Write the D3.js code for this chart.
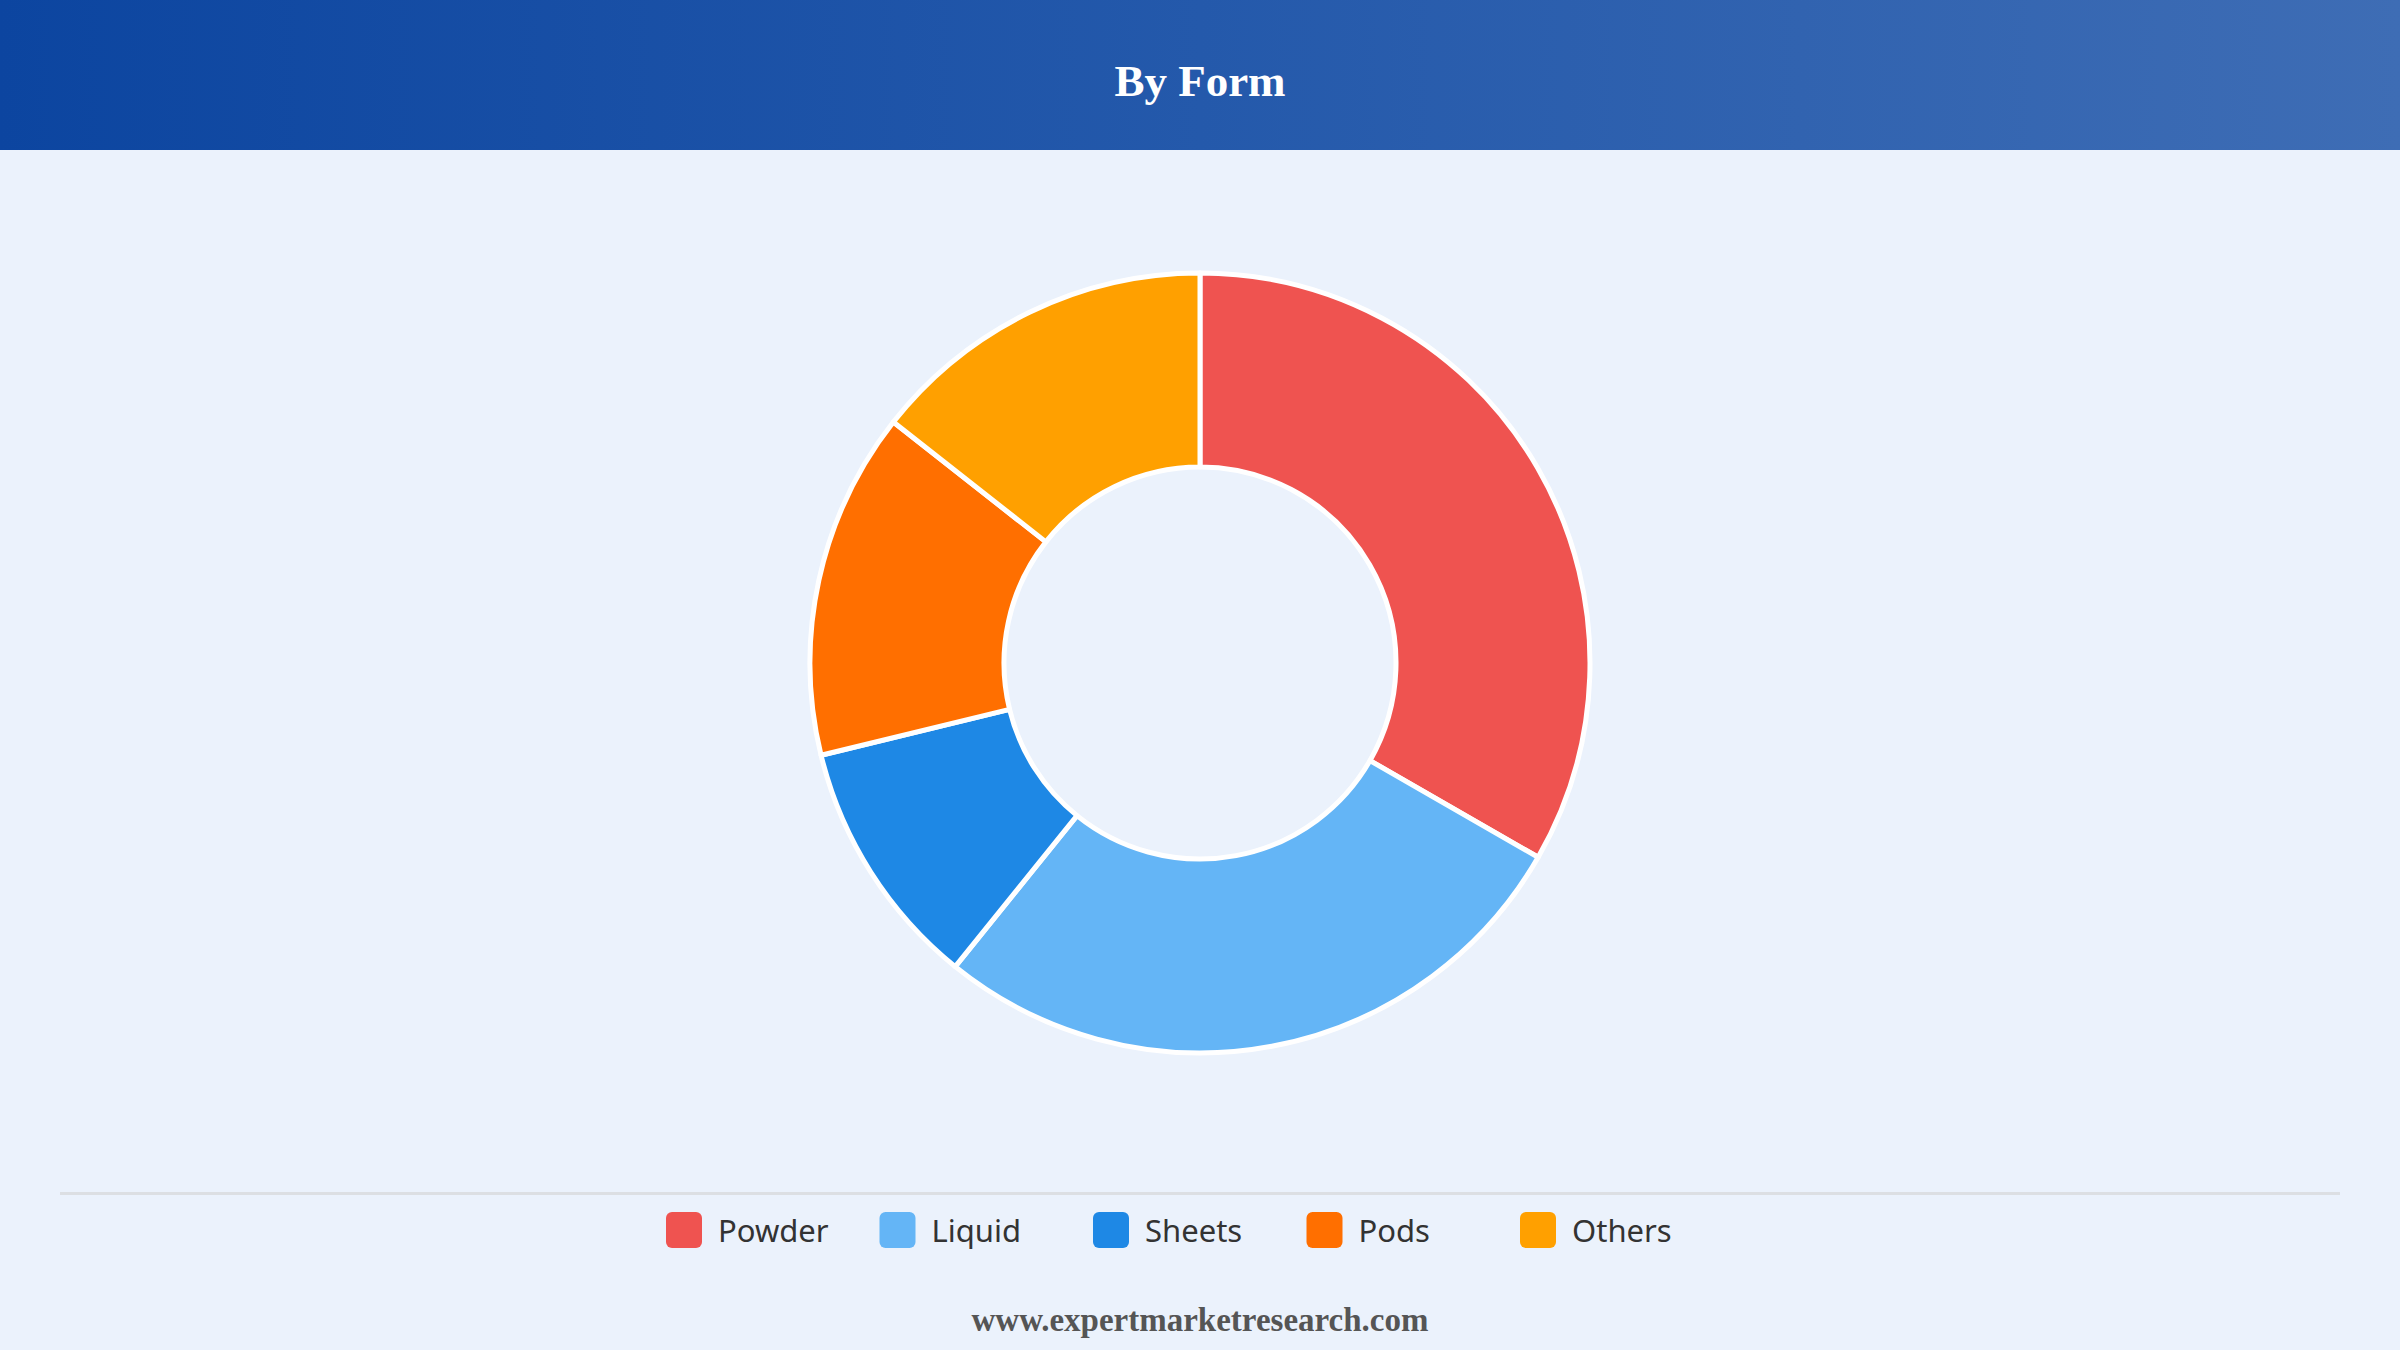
<!DOCTYPE html>
<html>
<head>
<meta charset="utf-8">
<script src="https://cdn.jsdelivr.net/npm/d3@7/dist/d3.min.js"></script>
<style>
  html, body { margin: 0; padding: 0; background: #ebf2fc; }
  svg { display: block; }
</style>
</head>
<body>
<svg id="chart" width="2400" height="1350"></svg>
<script>
const title = "By Form";
const footer = "www.expertmarketresearch.com";
const categories = ["Powder", "Liquid", "Sheets", "Pods", "Others"];
const values = [33.3, 27.5, 10.4, 14.4, 14.4];
const colors = ["#ef5350", "#64b5f6", "#1e88e5", "#ff6f00", "#ffa000"];

const W = 2400, H = 1350;
const svg = d3.select("#chart");

const defs = svg.append("defs");
const grad = defs.append("linearGradient").attr("id", "hdr").attr("x1", "0%").attr("x2", "100%").attr("y1", "0%").attr("y2", "0%");
grad.append("stop").attr("offset", "0%").attr("stop-color", "#0c45a0");
grad.append("stop").attr("offset", "50%").attr("stop-color", "#2459ab");
grad.append("stop").attr("offset", "100%").attr("stop-color", "#3e6db5");

svg.append("rect").attr("width", W).attr("height", H).attr("fill", "#ebf2fc");
svg.append("rect").attr("width", W).attr("height", 150).attr("fill", "url(#hdr)");

svg.append("text")
  .attr("x", W / 2).attr("y", 96)
  .attr("text-anchor", "middle")
  .attr("font-family", "'Liberation Serif', 'Times New Roman', serif")
  .attr("font-weight", "bold")
  .attr("font-size", 45)
  .attr("fill", "#ffffff")
  .text(title);

// Donut
const cx = 1200, cy = 663, rOuter = 390, rInner = 196;
const color = d3.scaleOrdinal().domain(categories).range(colors);
const pie = d3.pie().sort(null).value(d => d.value).startAngle(0).endAngle(2 * Math.PI);
const arc = d3.arc().innerRadius(rInner).outerRadius(rOuter);
const data = categories.map((c, i) => ({ name: c, value: values[i] }));

const g = svg.append("g").attr("transform", `translate(${cx},${cy})`);
g.selectAll("path")
  .data(pie(data))
  .join("path")
  .attr("d", arc)
  .attr("fill", d => color(d.data.name))
  .attr("stroke", "#ffffff")
  .attr("stroke-width", 5)
  .attr("stroke-linejoin", "round");

// Separator
svg.append("line")
  .attr("x1", 60).attr("x2", 2340)
  .attr("y1", 1193.5).attr("y2", 1193.5)
  .attr("stroke", "#dcdfe3").attr("stroke-width", 3);

// Legend
const itemW = 213.5;
const legendX = d3.scalePoint().domain(categories).range([666, 666 + itemW * 4]);
const lg = svg.append("g");
const items = lg.selectAll("g").data(categories).join("g")
  .attr("transform", d => `translate(${legendX(d)},1212)`);
items.append("rect")
  .attr("width", 36).attr("height", 36).attr("rx", 6).attr("ry", 6)
  .attr("fill", d => color(d));
items.append("text")
  .attr("x", 52).attr("y", 30)
  .attr("font-family", "'Noto Sans', 'Open Sans', sans-serif")
  .attr("font-size", 31)
  .attr("fill", "#333333")
  .text(d => d);

// Footer
svg.append("text")
  .attr("x", W / 2).attr("y", 1331)
  .attr("text-anchor", "middle")
  .attr("font-family", "'Liberation Serif', 'Times New Roman', serif")
  .attr("font-weight", "bold")
  .attr("font-size", 33)
  .attr("fill", "#555555")
  .text(footer);
</script>
</body>
</html>
